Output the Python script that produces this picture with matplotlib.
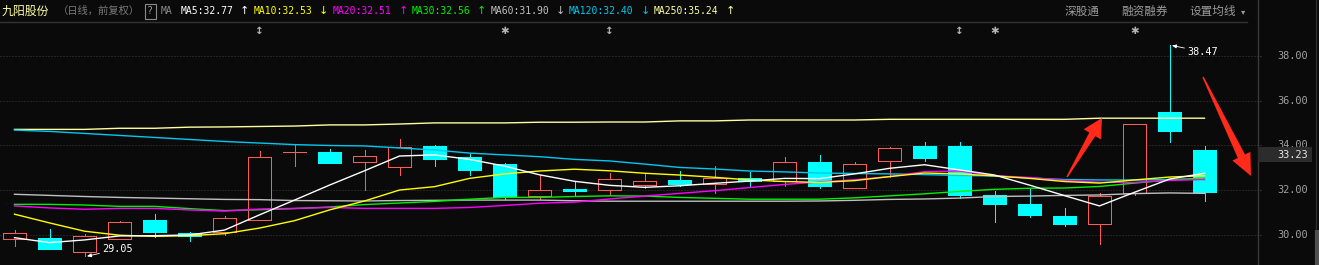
import numpy as np
import matplotlib
matplotlib.use('Agg')
import matplotlib.pyplot as plt
from matplotlib.patches import Rectangle, Polygon
from matplotlib.transforms import IdentityTransform

plt.rcParams['font.family'] = ['Noto Sans CJK SC', 'DejaVu Sans']

# daily candles (open, high, low, close)
opens = [29.83, 29.87, 29.22, 29.81, 30.67, 30.08, 30.15, 30.66, 33.70, 33.71,
         33.28, 33.02, 33.98, 33.49, 33.17, 31.76, 32.06, 32.03, 32.25, 32.46,
         32.27, 32.55, 32.40, 33.26, 32.09, 33.30, 33.98, 33.98, 31.79, 31.39,
         30.85, 30.48, 31.89, 35.50, 33.80]
highs = [30.22, 30.27, 30.03, 30.64, 30.94, 30.13, 30.85, 33.74, 34.02, 33.85,
         33.80, 34.29, 34.02, 33.65, 33.23, 32.68, 32.38, 32.77, 32.73, 32.86,
         33.08, 32.83, 33.50, 33.58, 33.26, 33.92, 34.16, 34.16, 31.97, 32.04,
         31.19, 31.86, 34.95, 38.47, 33.98]
lows = [29.52, 29.36, 29.05, 29.81, 29.90, 29.75, 29.99, 30.66, 33.10, 33.23,
        32.01, 32.68, 33.08, 32.68, 31.61, 31.61, 31.74, 31.79, 32.09, 32.19,
        31.89, 32.13, 32.20, 32.11, 32.09, 32.61, 33.32, 31.65, 30.59, 30.79,
        30.40, 29.61, 31.79, 34.17, 31.54]
closes = [30.08, 29.39, 29.94, 30.57, 30.15, 29.96, 30.74, 33.47, 33.70, 33.23,
          33.52, 33.92, 33.40, 32.91, 31.68, 32.01, 31.98, 32.49, 32.40, 32.28,
          32.55, 32.41, 33.26, 32.20, 33.16, 33.87, 33.46, 31.80, 31.40, 30.91,
          30.51, 31.76, 34.95, 34.66, 31.94]

# moving averages
ma5 = [29.88, 29.66, 29.78, 29.96, 29.97, 30.00, 30.22, 30.90, 31.56, 32.23,
       32.87, 33.53, 33.58, 33.38, 33.08, 32.69, 32.40, 32.22, 32.13, 32.20,
       32.31, 32.41, 32.53, 32.52, 32.73, 32.98, 33.14, 32.91, 32.68, 32.23,
       31.76, 31.30, 31.91, 32.50, 32.76]
ma10 = [30.93, 30.54, 30.17, 29.99, 29.94, 29.97, 30.06, 30.31, 30.64, 31.12,
        31.52, 32.01, 32.16, 32.53, 32.73, 32.86, 32.94, 32.87, 32.76, 32.68,
        32.58, 32.46, 32.39, 32.35, 32.43, 32.61, 32.77, 32.73, 32.64, 32.53,
        32.39, 32.32, 32.46, 32.59, 32.65]
ma20 = [31.30, 31.21, 31.15, 31.19, 31.19, 31.12, 31.07, 31.16, 31.19, 31.23,
        31.19, 31.19, 31.19, 31.23, 31.32, 31.42, 31.47, 31.61, 31.74, 31.86,
        31.98, 32.12, 32.26, 32.37, 32.47, 32.61, 32.83, 32.86, 32.65, 32.57,
        32.44, 32.36, 32.35, 32.44, 32.48]
ma30 = [31.37, 31.37, 31.34, 31.28, 31.28, 31.18, 31.09, 31.13, 31.18, 31.25,
        31.36, 31.43, 31.50, 31.60, 31.68, 31.68, 31.72, 31.75, 31.74, 31.68,
        31.64, 31.60, 31.60, 31.60, 31.66, 31.75, 31.84, 31.95, 32.04, 32.09,
        32.10, 32.17, 32.32, 32.46, 32.55]
ma60 = [31.82, 31.77, 31.72, 31.68, 31.65, 31.62, 31.59, 31.58, 31.54, 31.53,
        31.52, 31.54, 31.55, 31.56, 31.56, 31.56, 31.53, 31.51, 31.51, 31.51,
        31.51, 31.51, 31.51, 31.52, 31.55, 31.59, 31.61, 31.65, 31.72, 31.74,
        31.77, 31.79, 31.85, 31.88, 31.86]
ma120 = [34.69, 34.63, 34.54, 34.45, 34.36, 34.27, 34.18, 34.11, 34.04, 34.00,
         33.98, 33.89, 33.80, 33.66, 33.58, 33.50, 33.38, 33.31, 33.17, 33.02,
         32.95, 32.86, 32.82, 32.77, 32.75, 32.73, 32.70, 32.66, 32.64, 32.55,
         32.48, 32.46, 32.46, 32.48, 32.50]
ma250 = [34.72, 34.72, 34.72, 34.77, 34.77, 34.82, 34.83, 34.85, 34.87, 34.92,
         34.92, 34.96, 35.01, 35.01, 35.01, 35.04, 35.04, 35.05, 35.05, 35.10,
         35.10, 35.14, 35.14, 35.14, 35.14, 35.17, 35.17, 35.17, 35.17, 35.17,
         35.17, 35.22, 35.22, 35.22, 35.22]

ma_names = ['MA5', 'MA10', 'MA20', 'MA30', 'MA60', 'MA120', 'MA250']
ma_header_vals = ['32.77', '32.53', '32.51', '32.56', '31.90', '32.40', '35.24']
ma_header_dirs = ['↑', '↓', '↑', '↑', '↓', '↓', '↑']
ma_colors = ['#ffffff', '#ffff00', '#ff00ff', '#00f000', '#c0c0c0', '#00c8f0', '#ffffa0']

# event markers above candles
marker_idx = [7, 14, 17, 27, 28, 32]
marker_sym = ['↕', '✱', '↕', '↕', '✱', '✱']

y_ticks = [30, 32, 34, 36, 38]
hover_price = 33.58
hover_label = '33.23'

W, H = 1319, 265
BG = '#0a0a0a'
UP = '#ff5a5a'
DOWN = '#00ffff'
PX = 0.72  # one pixel in points

fig = plt.figure(figsize=(W / 100, H / 100), dpi=100, facecolor=BG)
ax = fig.add_axes([0, 0, 1257 / W, 1])
ax.set_facecolor(BG)
ax.set_xlim(-14.5 / 35, (1257 - 14.5) / 35)
ax.set_ylim(30 - 30 / 22.375, 30 + 235 / 22.375)
ax.axis('off')

for t in y_ticks:
    ax.axhline(t, color='#3c3c3c', lw=PX, ls=(0, (1, 2)), zorder=1)

bw = 23 / 35
for i in range(len(opens)):
    o, h, l, c = opens[i], highs[i], lows[i], closes[i]
    top, bot = max(o, c), min(o, c)
    if c >= o:
        ax.vlines(i, top, h, color=UP, lw=PX, zorder=2, antialiased=False)
        ax.vlines(i, l, bot, color=UP, lw=PX, zorder=2, antialiased=False)
        if c == o:
            ax.hlines(c, i - bw / 2, i + bw / 2, color=UP, lw=PX, zorder=2, antialiased=False)
        else:
            ax.add_patch(Rectangle((i - bw / 2, bot), bw, top - bot, facecolor=BG,
                                   edgecolor=UP, lw=PX, zorder=2, antialiased=False))
    else:
        ax.vlines(i, l, h, color=DOWN, lw=PX, zorder=2, antialiased=False)
        ax.add_patch(Rectangle((i - bw / 2, bot), bw, top - bot, facecolor=DOWN,
                               edgecolor=DOWN, lw=PX, zorder=2, antialiased=False))

x = np.arange(len(opens))
for vals, col in zip([ma250, ma120, ma60, ma30, ma20, ma10, ma5], ma_colors[::-1]):
    ax.plot(x, vals, color=col, lw=1.0, zorder=3)

# max / min labels
imax = int(np.argmax(highs))
imin = int(np.argmin(lows))
ax.annotate(f'{highs[imax]:.2f}', xy=(imax + 0.07, highs[imax]), xytext=(11, -4.5),
            textcoords='offset points', color='white', fontsize=7.3,
            family='DejaVu Sans Mono', va='center', ha='left',
            arrowprops=dict(arrowstyle='-|>,head_length=0.35,head_width=0.15',
                            color='white', lw=0.6, shrinkA=0, shrinkB=0))
ax.annotate(f'{lows[imin]:.2f}', xy=(imin + 0.07, lows[imin]), xytext=(11, 5),
            textcoords='offset points', color='white', fontsize=7.3,
            family='DejaVu Sans Mono', va='center', ha='left',
            arrowprops=dict(arrowstyle='-|>,head_length=0.35,head_width=0.15',
                            color='white', lw=0.6, shrinkA=0, shrinkB=0))

for i, s in zip(marker_idx, marker_sym):
    ax.text(i, 1 - 31 / H, s, transform=ax.get_xaxis_transform(), color='#b4b4b4',
            fontsize=7.5, ha='center', va='center', family='DejaVu Sans', fontweight='bold')

# right price axis
rax = fig.add_axes([1257 / W, 0, (W - 1257) / W, 1])
rax.set_facecolor(BG)
rax.set_xlim(0, W - 1257)
rax.set_ylim(ax.get_ylim())
rax.axis('off')
for t in y_ticks:
    rax.hlines(t, 0, 6, color='#555555', lw=PX, ls=(0, (1, 2)))
    rax.text(51, t, f'{t:.2f}', color='#a0a0a0', fontsize=7.4, family='DejaVu Sans Mono',
             ha='right', va='center')
rax.add_patch(Rectangle((1, hover_price - 7.5 / 22.375), 54, 15 / 22.375,
                        facecolor='#2c2c2c', edgecolor='none', zorder=4))
rax.text(51, hover_price, hover_label, color='#e6e6e6', fontsize=7.4,
         family='DejaVu Sans Mono', ha='right', va='center', zorder=5)
rax.axvline(0.5, color='#3a3a3a', lw=1)
rax.axvline(58.5, color='#2e2e2e', lw=1)
rax.vlines(59.5, ax.get_ylim()[0], 30 + (235 - 230) / 22.375, color='#505050', lw=3)


def fx(px):
    return px / W


def fy(py):
    return 1 - py / H


# header
fig.add_artist(plt.Line2D([0, fx(1247)], [fy(22), fy(22)], color='#333333', lw=1))
hy = fy(11)
fig.text(fx(2), hy, '九阳股份', color='#ffffa0', fontsize=8.6, va='center')
fig.text(fx(58), hy, '（日线，前复权）', color='#7a7a7a', fontsize=7.4, va='center')
fig.text(fx(150), hy, '?', color='#9a9a9a', fontsize=7.2, va='center', ha='center',
         family='DejaVu Sans Mono',
         bbox=dict(boxstyle='square,pad=0.25', facecolor=BG, edgecolor='#8a8a8a', lw=0.8))
fig.text(fx(161), hy, 'MA', color='#8a8a8a', fontsize=7.0, va='center', family='DejaVu Sans Mono')
label_x = [181, 254, 333, 412, 491, 569, 654]
arrow_x = [244, 323, 403, 481, 560, 645, 730]
for name, v, d, col, lx, axx in zip(ma_names, ma_header_vals, ma_header_dirs, ma_colors,
                                    label_x, arrow_x):
    fig.text(fx(lx), hy, f'{name}:{v}', color=col, fontsize=7.05, va='center',
             family='DejaVu Sans Mono')
    fig.text(fx(axx), hy, d, color=col, fontsize=8, va='center', ha='center',
             family='DejaVu Sans')
fig.text(fx(1065), hy, '深股通', color='#9a9a9a', fontsize=8.4, va='center')
fig.text(fx(1121), hy, '融资融券', color='#9a9a9a', fontsize=8.4, va='center')
fig.text(fx(1189), hy, '设置均线', color='#9a9a9a', fontsize=8.4, va='center')
fig.text(fx(1243), fy(12), '▾', color='#9a9a9a', fontsize=6, va='center', ha='center',
         family='DejaVu Sans')


def red_arrow(x0, y0, x1, y1, w0, w1, hw, hl):
    p0 = np.array([x0, H - y0], float)
    p1 = np.array([x1, H - y1], float)
    d = p1 - p0
    u = d / np.hypot(*d)
    n = np.array([-u[1], u[0]])
    b = p1 - u * hl
    pts = [p0 + n * w0 / 2, b + n * w1 / 2, b + n * hw / 2, p1,
           b - n * hw / 2, b - n * w1 / 2, p0 - n * w0 / 2]
    fig.add_artist(Polygon(pts, closed=True, transform=IdentityTransform(),
                           facecolor='#ff2a1a', edgecolor='none'))


red_arrow(1067, 177, 1102, 118, 1.5, 7, 20, 19)
red_arrow(1203, 77, 1251, 176, 1.5, 8, 20, 22)

fig.savefig('out.png', dpi=100, facecolor=BG)
